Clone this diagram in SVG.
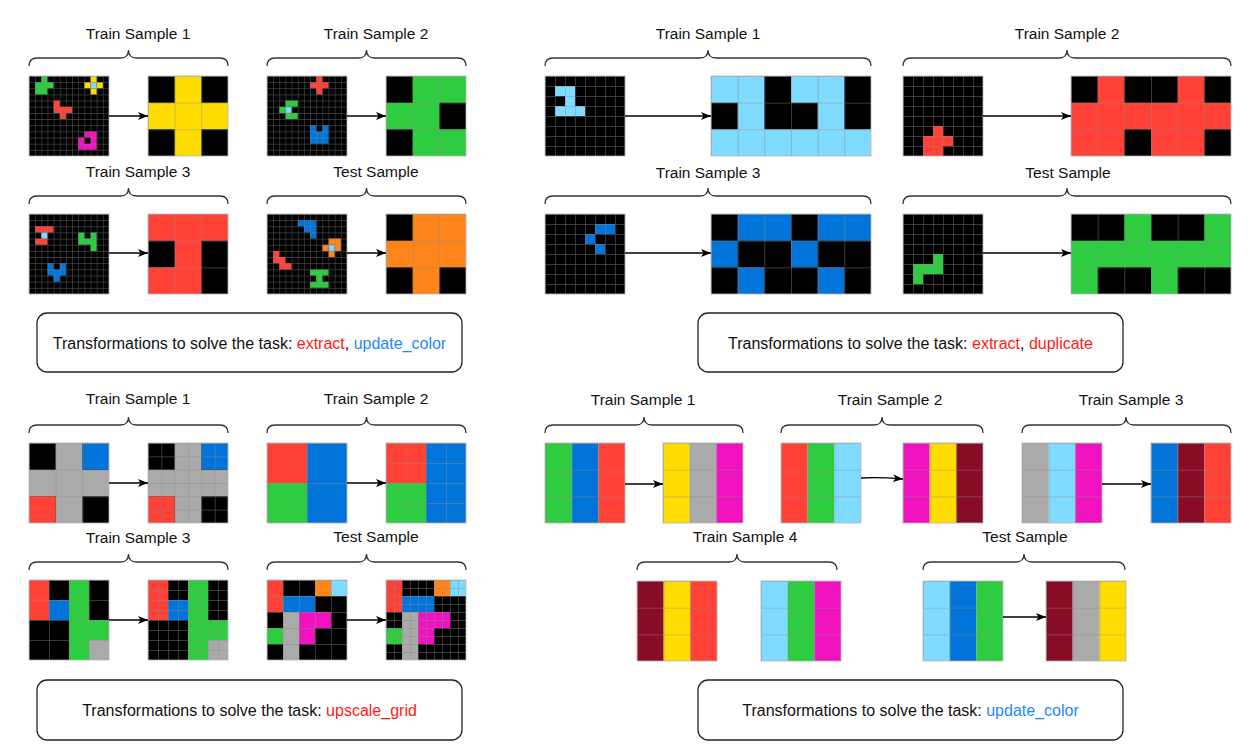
<svg xmlns="http://www.w3.org/2000/svg" xmlns:xlink="http://www.w3.org/1999/xlink" width="1260" height="756" viewBox="0 0 1260 756">
<style>
.k{fill:#000}.g{fill:#2ECC40}.r{fill:#FF4136}.b{fill:#0074D9}.y{fill:#FFDC00}.c{fill:#7FDBFF}.m{fill:#F012BE}.a{fill:#AAAAAA}.w{fill:#870C25}.o{fill:#FF851B}
.gl{fill:#8a8a8a;fill-opacity:.55}
.bd{fill:none;stroke:#b5b5b5;stroke-width:.8}
.br{fill:none;stroke:#333;stroke-width:1.3}
.ar{fill:none;stroke:#000;stroke-width:1.3;marker-end:url(#ah)}
.t{font-family:"Liberation Sans",Arial,sans-serif;font-size:15.5px;fill:#111;text-anchor:middle}
.bt{font-family:"Liberation Sans",Arial,sans-serif;font-size:16px;fill:#111;text-anchor:middle}
.box{fill:#fff;stroke:#222;stroke-width:1.3}
.red{fill:#FF1A1A}.blue{fill:#1E88FF}
</style>
<defs>
<marker id="ah" viewBox="0 0 10 10" refX="10" refY="5" markerWidth="10" markerHeight="10" markerUnits="userSpaceOnUse" orient="auto"><path d="M0 1L10 5L0 9L2.5 5Z" fill="#000"/></marker>
<pattern id="p6" width="6.1538" height="6.1538" patternUnits="userSpaceOnUse"><path class="gl" d="M0 0H6.1538V0.6H0ZM0 0H0.6V6.1538H0Z"/></pattern>
<pattern id="p8" width="8" height="8" patternUnits="userSpaceOnUse"><path class="gl" d="M0 0H8V0.7H0ZM0 0H0.7V8H0Z"/></pattern>
<pattern id="p10" width="10" height="10" patternUnits="userSpaceOnUse"><path class="gl" d="M0 0H10V0.7H0ZM0 0H0.7V10H0Z"/></pattern>
<pattern id="p13" width="13.3333" height="13.3333" patternUnits="userSpaceOnUse"><path class="gl" d="M0 0H13.3333V0.7H0ZM0 0H0.7V13.3333H0Z"/></pattern>
<pattern id="p16" width="16" height="16" patternUnits="userSpaceOnUse"><path class="gl" d="M0 0H16V0.7H0ZM0 0H0.7V16H0Z"/></pattern>
<pattern id="p20" width="20" height="20" patternUnits="userSpaceOnUse"><path class="gl" d="M0 0H20V0.7H0ZM0 0H0.7V20H0Z"/></pattern>
<pattern id="p26" width="26.6667" height="26.6667" patternUnits="userSpaceOnUse"><path class="gl" d="M0 0H26.6667V0.8H0ZM0 0H0.8V26.6667H0Z"/></pattern>
<pattern id="p40" width="40" height="40" patternUnits="userSpaceOnUse"><path class="gl" d="M0 0H40V0.8H0ZM0 0H0.8V40H0Z"/></pattern>
<g id="c3a"><path class="a" d="M1 0h1v3h-1zM0 1h3v1h-3z"/><path class="b" d="M2 0h1v1h-1z"/><path class="r" d="M0 2h1v1h-1z"/></g>
<g id="c3b"><path class="r" d="M0 0h1v1h-1z"/><path class="b" d="M1 0h1v2h-1z"/><path class="g" d="M0 1h1v1h-1z"/></g>
<g id="c3c"><path class="r" d="M0 0h1v2h-1z"/><path class="b" d="M1 1h1v1h-1z"/><path class="g" d="M2 0h1v4h-1zM3 2h1v1h-1z"/><path class="a" d="M3 3h1v1h-1z"/></g>
<g id="c3d"><path class="r" d="M0 0h1v2h-1z"/><path class="o" d="M3 0h1v1h-1z"/><path class="c" d="M4 0h1v1h-1z"/><path class="b" d="M1 1h2v1h-2z"/><path class="a" d="M1 2h1v3h-1z"/><path class="m" d="M2 2h2v1h-2zM2 3h1v1h-1z"/><path class="g" d="M0 3h1v1h-1z"/></g>
</defs>
<rect width="1260" height="756" fill="#fff"/>

<!-- Panel 1 labels and brackets -->
<g id="p1-labels">
<text class="t" x="138" y="38.5">Train Sample 1</text>
<text class="t" x="376" y="38.5">Train Sample 2</text>
<text class="t" x="138" y="176.5">Train Sample 3</text>
<text class="t" x="376" y="176.5">Test Sample</text>
<path class="br" d="M29 66Q29 58 37 58H120.5Q128.5 58 128.5 50Q128.5 58 136.5 58H220Q228 58 228 66"/>
<path class="br" d="M267 66Q267 58 275 58H358.5Q366.5 58 366.5 50Q366.5 58 374.5 58H458Q466 58 466 66"/>
<path class="br" d="M29 204Q29 196 37 196H120.5Q128.5 196 128.5 188Q128.5 196 136.5 196H220Q228 196 228 204"/>
<path class="br" d="M267 204Q267 196 275 196H358.5Q366.5 196 366.5 188Q366.5 196 374.5 196H458Q466 196 466 204"/>
</g>

<g id="p1-train1-in" transform="translate(29,76)"><rect class="k" width="80" height="80"/><g transform="scale(6.1538)"><path class="g" d="M2 0h1v1h-1zM1 1h3v1h-3zM1 2h2v1h-2z"/><path class="y" d="M10 0h1v1h-1zM9 1h1v1h-1zM11 1h1v1h-1zM10 2h1v1h-1z"/><path class="c" d="M10 1h1v1h-1z"/><path class="r" d="M4 4h1v1h-1zM4 5h3v1h-3zM5 6h1v1h-1z"/><path class="m" d="M9 9h2v1h-2zM8 10h1v1h-1zM10 10h1v1h-1zM8 11h3v1h-3z"/></g><rect width="80" height="80" fill="url(#p6)"/><rect class="bd" width="80" height="80"/></g>
<g id="p1-train1-out" transform="translate(148,76)"><rect class="k" width="80" height="80"/><g transform="scale(26.6667)"><path class="y" d="M1 0h1v3h-1zM0 1h3v1h-3z"/></g><rect width="80" height="80" fill="url(#p26)"/><rect class="bd" width="80" height="80"/></g>
<g id="p1-train2-in" transform="translate(267,76)"><rect class="k" width="80" height="80"/><g transform="scale(6.1538)"><path class="r" d="M8 0h1v1h-1zM7 1h3v1h-3zM8 2h1v1h-1z"/><path class="g" d="M3 4h2v1h-2zM2 5h1v1h-1zM3 6h2v1h-2z"/><path class="c" d="M3 5h1v1h-1z"/><path class="b" d="M7 8h1v1h-1zM9 8h1v1h-1zM7 9h3v2h-3z"/></g><rect width="80" height="80" fill="url(#p6)"/><rect class="bd" width="80" height="80"/></g>
<g id="p1-train2-out" transform="translate(386,76)"><rect class="k" width="80" height="80"/><g transform="scale(26.6667)"><path class="g" d="M1 0h2v1h-2zM0 1h2v1h-2zM1 2h2v1h-2z"/></g><rect width="80" height="80" fill="url(#p26)"/><rect class="bd" width="80" height="80"/></g>
<g id="p1-train3-in" transform="translate(29,214)"><rect class="k" width="80" height="80"/><g transform="scale(6.1538)"><path class="r" d="M1 2h3v1h-3zM1 4h2v1h-2z"/><path class="c" d="M2 3h1v1h-1z"/><path class="g" d="M8 3h1v1h-1zM10 3h1v1h-1zM8 4h3v1h-3zM10 5h1v1h-1z"/><path class="b" d="M3 8h1v1h-1zM5 8h1v1h-1zM3 9h3v1h-3zM4 10h1v1h-1z"/></g><rect width="80" height="80" fill="url(#p6)"/><rect class="bd" width="80" height="80"/></g>
<g id="p1-train3-out" transform="translate(148,214)"><rect class="k" width="80" height="80"/><g transform="scale(26.6667)"><path class="r" d="M0 0h3v1h-3zM1 1h1v1h-1zM0 2h2v1h-2z"/></g><rect width="80" height="80" fill="url(#p26)"/><rect class="bd" width="80" height="80"/></g>
<g id="p1-test-in" transform="translate(267,214)"><rect class="k" width="80" height="80"/><g transform="scale(6.1538)"><path class="b" d="M5 1h3v1h-3zM6 2h2v1h-2zM7 3h1v1h-1z"/><path class="o" d="M10 4h2v1h-2zM9 5h1v1h-1zM11 5h1v1h-1zM10 6h1v1h-1z"/><path class="c" d="M10 5h1v1h-1z"/><path class="r" d="M1 6h1v1h-1zM1 7h2v1h-2zM2 8h2v1h-2z"/><path class="g" d="M7 9h3v1h-3zM8 10h1v1h-1zM7 11h3v1h-3z"/></g><rect width="80" height="80" fill="url(#p6)"/><rect class="bd" width="80" height="80"/></g>
<g id="p1-test-out" transform="translate(386,214)"><rect class="k" width="80" height="80"/><g transform="scale(26.6667)"><path class="o" d="M1 0h2v1h-2zM0 1h3v1h-3zM1 2h1v1h-1z"/></g><rect width="80" height="80" fill="url(#p26)"/><rect class="bd" width="80" height="80"/></g>

<g id="box1"><rect class="box" x="37" y="313" width="425" height="59" rx="10"/><text class="bt" x="249.5" y="348.5">Transformations to solve the task: <tspan class="red">extract</tspan>, <tspan class="blue">update_color</tspan></text></g>

<!-- Panel 2 -->
<g id="p2-labels">
<text class="t" x="708" y="38.5">Train Sample 1</text>
<text class="t" x="1067" y="38.5">Train Sample 2</text>
<text class="t" x="708" y="178">Train Sample 3</text>
<text class="t" x="1068" y="178">Test Sample</text>
<path class="br" d="M545 66Q545 58 553 58H700Q708 58 708 50Q708 58 716 58H863Q871 58 871 66"/>
<path class="br" d="M903 66Q903 58 911 58H1059Q1067 58 1067 50Q1067 58 1075 58H1223Q1231 58 1231 66"/>
<path class="br" d="M545 204Q545 196 553 196H700Q708 196 708 188Q708 196 716 196H863Q871 196 871 204"/>
<path class="br" d="M903 204Q903 196 911 196H1059Q1067 196 1067 188Q1067 196 1075 196H1223Q1231 196 1231 204"/>
</g>
<g id="p2-train1-in" transform="translate(545,76)"><rect class="k" width="80" height="80"/><g transform="scale(10)"><path class="c" d="M1 1h2v1h-2zM2 2h1v1h-1zM1 3h3v1h-3z"/></g><rect width="80" height="80" fill="url(#p10)"/><rect class="bd" width="80" height="80"/></g>
<g id="p2-train1-out" transform="translate(711,76)"><rect class="k" width="160" height="80"/><g transform="scale(26.6667)"><path class="c" d="M0 0h2v1h-2zM3 0h2v1h-2zM1 1h1v1h-1zM4 1h1v1h-1zM0 2h6v1h-6z"/></g><rect width="160" height="80" fill="url(#p26)"/><rect class="bd" width="160" height="80"/></g>
<g id="p2-train2-in" transform="translate(903,76)"><rect class="k" width="80" height="80"/><g transform="scale(10)"><path class="r" d="M3 5h1v1h-1zM2 6h3v1h-3zM2 7h2v1h-2z"/></g><rect width="80" height="80" fill="url(#p10)"/><rect class="bd" width="80" height="80"/></g>
<g id="p2-train2-out" transform="translate(1071,76)"><rect class="k" width="160" height="80"/><g transform="scale(26.6667)"><path class="r" d="M1 0h1v1h-1zM4 0h1v1h-1zM0 1h6v1h-6zM0 2h2v1h-2zM3 2h2v1h-2z"/></g><rect width="160" height="80" fill="url(#p26)"/><rect class="bd" width="160" height="80"/></g>
<g id="p2-train3-in" transform="translate(545,214)"><rect class="k" width="80" height="80"/><g transform="scale(10)"><path class="b" d="M5 1h2v1h-2zM4 2h1v1h-1zM5 3h1v1h-1z"/></g><rect width="80" height="80" fill="url(#p10)"/><rect class="bd" width="80" height="80"/></g>
<g id="p2-train3-out" transform="translate(711,214)"><rect class="k" width="160" height="80"/><g transform="scale(26.6667)"><path class="b" d="M1 0h2v1h-2zM4 0h2v1h-2zM0 1h1v1h-1zM3 1h1v1h-1zM1 2h1v1h-1zM4 2h1v1h-1z"/></g><rect width="160" height="80" fill="url(#p26)"/><rect class="bd" width="160" height="80"/></g>
<g id="p2-test-in" transform="translate(903,214)"><rect class="k" width="80" height="80"/><g transform="scale(10)"><path class="g" d="M3 4h1v1h-1zM1 5h3v1h-3zM1 6h1v1h-1z"/></g><rect width="80" height="80" fill="url(#p10)"/><rect class="bd" width="80" height="80"/></g>
<g id="p2-test-out" transform="translate(1071,214)"><rect class="k" width="160" height="80"/><g transform="scale(26.6667)"><path class="g" d="M2 0h1v1h-1zM5 0h1v1h-1zM0 1h6v1h-6zM0 2h1v1h-1zM3 2h1v1h-1z"/></g><rect width="160" height="80" fill="url(#p26)"/><rect class="bd" width="160" height="80"/></g>

<g id="box2"><rect class="box" x="698" y="313" width="425" height="59" rx="10"/><text class="bt" x="910.5" y="348.5">Transformations to solve the task: <tspan class="red">extract</tspan>, <tspan class="red">duplicate</tspan></text></g>

<!-- Panel 3 -->
<g id="p3-labels">
<text class="t" x="138" y="404">Train Sample 1</text>
<text class="t" x="376" y="404">Train Sample 2</text>
<text class="t" x="138" y="543">Train Sample 3</text>
<text class="t" x="376" y="542">Test Sample</text>
<path class="br" d="M29 433Q29 425 37 425H120.5Q128.5 425 128.5 417Q128.5 425 136.5 425H220Q228 425 228 433"/>
<path class="br" d="M267 433Q267 425 275 425H358.5Q366.5 425 366.5 417Q366.5 425 374.5 425H458Q466 425 466 433"/>
<path class="br" d="M29 570Q29 562 37 562H120.5Q128.5 562 128.5 554Q128.5 562 136.5 562H220Q228 562 228 570"/>
<path class="br" d="M267 570Q267 562 275 562H358.5Q366.5 562 366.5 554Q366.5 562 374.5 562H458Q466 562 466 570"/>
</g>
<g id="p3-train1-in" transform="translate(29,443)"><rect class="k" width="80" height="80"/><use href="#c3a" transform="scale(26.6667)"/><rect width="80" height="80" fill="url(#p26)"/><rect class="bd" width="80" height="80"/></g>
<g id="p3-train1-out" transform="translate(148,443)"><rect class="k" width="80" height="80"/><use href="#c3a" transform="scale(26.6667)"/><rect width="80" height="80" fill="url(#p13)"/><rect class="bd" width="80" height="80"/></g>
<g id="p3-train2-in" transform="translate(267,443)"><rect class="k" width="80" height="80"/><use href="#c3b" transform="scale(40)"/><rect width="80" height="80" fill="url(#p40)"/><rect class="bd" width="80" height="80"/></g>
<g id="p3-train2-out" transform="translate(386,443)"><rect class="k" width="80" height="80"/><use href="#c3b" transform="scale(40)"/><rect width="80" height="80" fill="url(#p20)"/><rect class="bd" width="80" height="80"/></g>
<g id="p3-train3-in" transform="translate(29,580)"><rect class="k" width="80" height="80"/><use href="#c3c" transform="scale(20)"/><rect width="80" height="80" fill="url(#p20)"/><rect class="bd" width="80" height="80"/></g>
<g id="p3-train3-out" transform="translate(148,580)"><rect class="k" width="80" height="80"/><use href="#c3c" transform="scale(20)"/><rect width="80" height="80" fill="url(#p10)"/><rect class="bd" width="80" height="80"/></g>
<g id="p3-test-in" transform="translate(267,580)"><rect class="k" width="80" height="80"/><use href="#c3d" transform="scale(16)"/><rect width="80" height="80" fill="url(#p16)"/><rect class="bd" width="80" height="80"/></g>
<g id="p3-test-out" transform="translate(386,580)"><rect class="k" width="80" height="80"/><use href="#c3d" transform="scale(16)"/><rect width="80" height="80" fill="url(#p8)"/><rect class="bd" width="80" height="80"/></g>

<g id="box3"><rect class="box" x="37" y="680" width="425" height="60" rx="10"/><text class="bt" x="249.5" y="715.5">Transformations to solve the task: <tspan class="red">upscale_grid</tspan></text></g>

<!-- Panel 4 -->
<g id="p4-labels">
<text class="t" x="643" y="405">Train Sample 1</text>
<text class="t" x="890" y="405">Train Sample 2</text>
<text class="t" x="1131" y="405">Train Sample 3</text>
<text class="t" x="745" y="542">Train Sample 4</text>
<text class="t" x="1025" y="542">Test Sample</text>
<path class="br" d="M545 433Q545 425 553 425H636Q644 425 644 417Q644 425 652 425H735Q743 425 743 433"/>
<path class="br" d="M781 433Q781 425 789 425H874Q882 425 882 417Q882 425 890 425H975Q983 425 983 433"/>
<path class="br" d="M1022 433Q1022 425 1030 425H1118Q1126 425 1126 417Q1126 425 1134 425H1223Q1231 425 1231 433"/>
<path class="br" d="M637 570Q637 562 645 562H729Q737 562 737 554Q737 562 745 562H829Q837 562 837 570"/>
<path class="br" d="M923 570Q923 562 931 562H1016Q1024 562 1024 554Q1024 562 1032 562H1117Q1125 562 1125 570"/>
</g>
<g id="p4-train1-in" transform="translate(545,443)"><rect class="g" width="26.6667" height="80"/><rect class="b" x="26.6667" width="26.6667" height="80"/><rect class="r" x="53.3333" width="26.6667" height="80"/><rect width="80" height="80" fill="url(#p26)"/><rect class="bd" width="80" height="80"/></g>
<g id="p4-train1-out" transform="translate(663,443)"><rect class="y" width="26.6667" height="80"/><rect class="a" x="26.6667" width="26.6667" height="80"/><rect class="m" x="53.3333" width="26.6667" height="80"/><rect width="80" height="80" fill="url(#p26)"/><rect class="bd" width="80" height="80"/></g>
<g id="p4-train2-in" transform="translate(781,443)"><rect class="r" width="26.6667" height="80"/><rect class="g" x="26.6667" width="26.6667" height="80"/><rect class="c" x="53.3333" width="26.6667" height="80"/><rect width="80" height="80" fill="url(#p26)"/><rect class="bd" width="80" height="80"/></g>
<g id="p4-train2-out" transform="translate(903,443)"><rect class="m" width="26.6667" height="80"/><rect class="y" x="26.6667" width="26.6667" height="80"/><rect class="w" x="53.3333" width="26.6667" height="80"/><rect width="80" height="80" fill="url(#p26)"/><rect class="bd" width="80" height="80"/></g>
<g id="p4-train3-in" transform="translate(1022,443)"><rect class="a" width="26.6667" height="80"/><rect class="c" x="26.6667" width="26.6667" height="80"/><rect class="m" x="53.3333" width="26.6667" height="80"/><rect width="80" height="80" fill="url(#p26)"/><rect class="bd" width="80" height="80"/></g>
<g id="p4-train3-out" transform="translate(1151,443)"><rect class="b" width="26.6667" height="80"/><rect class="w" x="26.6667" width="26.6667" height="80"/><rect class="r" x="53.3333" width="26.6667" height="80"/><rect width="80" height="80" fill="url(#p26)"/><rect class="bd" width="80" height="80"/></g>
<g id="p4-train4-in" transform="translate(637,581)"><rect class="w" width="26.6667" height="80"/><rect class="y" x="26.6667" width="26.6667" height="80"/><rect class="r" x="53.3333" width="26.6667" height="80"/><rect width="80" height="80" fill="url(#p26)"/><rect class="bd" width="80" height="80"/></g>
<g id="p4-train4-out" transform="translate(761,581)"><rect class="c" width="26.6667" height="80"/><rect class="g" x="26.6667" width="26.6667" height="80"/><rect class="m" x="53.3333" width="26.6667" height="80"/><rect width="80" height="80" fill="url(#p26)"/><rect class="bd" width="80" height="80"/></g>
<g id="p4-test-in" transform="translate(923,581)"><rect class="c" width="26.6667" height="80"/><rect class="b" x="26.6667" width="26.6667" height="80"/><rect class="g" x="53.3333" width="26.6667" height="80"/><rect width="80" height="80" fill="url(#p26)"/><rect class="bd" width="80" height="80"/></g>
<g id="p4-test-out" transform="translate(1046,581)"><rect class="w" width="26.6667" height="80"/><rect class="a" x="26.6667" width="26.6667" height="80"/><rect class="y" x="53.3333" width="26.6667" height="80"/><rect width="80" height="80" fill="url(#p26)"/><rect class="bd" width="80" height="80"/></g>

<g id="box4"><rect class="box" x="698" y="680" width="425" height="60" rx="10"/><text class="bt" x="910.5" y="715.5">Transformations to solve the task: <tspan class="blue">update_color</tspan></text></g>

<g id="connectors">
<path class="ar" d="M109 116H148"/>
<path class="ar" d="M347 116H386"/>
<path class="ar" d="M109 253H148"/>
<path class="ar" d="M347 253H386"/>
<path class="ar" d="M625 116H711"/>
<path class="ar" d="M983 116H1071"/>
<path class="ar" d="M625 253H711"/>
<path class="ar" d="M983 253H1071"/>
<path class="ar" d="M109 483H148"/>
<path class="ar" d="M347 483H386"/>
<path class="ar" d="M109 620H148"/>
<path class="ar" d="M347 620H386"/>
<path class="ar" d="M625 484H663"/>
<path class="ar" d="M861 478Q880 477 903 479"/>
<path class="ar" d="M1102 484H1151"/>
<path class="ar" d="M1003 617H1046"/>
</g>
</svg>
